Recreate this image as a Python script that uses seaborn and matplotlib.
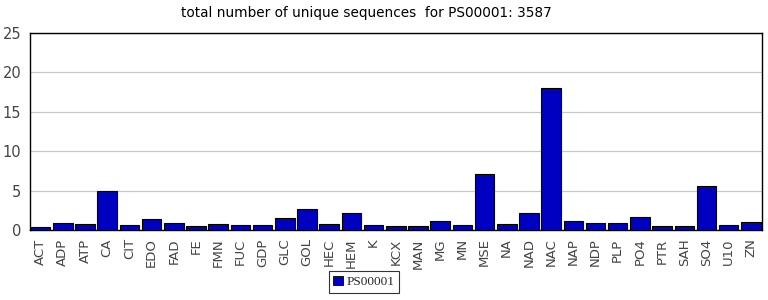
import matplotlib
matplotlib.use("Agg")
import matplotlib.pyplot as plt
import seaborn as sns
import pandas as pd
from matplotlib.patches import Patch

categories = ["ACT", "ADP", "ATP", "CA", "CIT", "EDO", "FAD", "FE", "FMN", "FUC", "GDP",
              "GLC", "GOL", "HEC", "HEM", "K", "KCX", "MAN", "MG", "MN", "MSE", "NA",
              "NAD", "NAC", "NAP", "NDP", "PLP", "PO4", "PTR", "SAH", "SO4", "U10", "ZN"]
values = [0.38, 0.93, 0.76, 5.0, 0.64, 1.4, 0.93, 0.5, 0.76, 0.64, 0.64,
          1.5, 2.67, 0.76, 2.16, 0.6, 0.5, 0.5, 1.14, 0.6, 7.1, 0.72,
          2.16, 18.0, 1.14, 0.89, 0.89, 1.65, 0.47, 0.47, 5.6, 0.6, 1.02]
series_name = "PS00001"
title = "total number of unique sequences  for PS00001: 3587"
yticks = [0, 5, 10, 15, 20, 25]

df = pd.DataFrame({"ligand": categories, "count": values, "series": series_name})

sns.set_style("white")
plt.rcParams["font.family"] = ["DejaVu Sans"]

fig = plt.figure(figsize=(7.68, 3.0), dpi=100)
ax = fig.add_axes([29.5 / 768, 1 - 230 / 300, (762 - 29.5) / 768, (230 - 33) / 300])

bar_color = "#0000C0"
sns.barplot(data=df, x="ligand", y="count", color=bar_color, saturation=1, width=0.88,
            edgecolor="black", linewidth=0.8, ax=ax, zorder=3)

ax.set_xlim(-0.5, len(categories) - 0.5)
ax.set_ylim(0, 25)
ax.set_yticks(yticks)
ax.yaxis.grid(True, color="#c8c8c8", linewidth=0.9, zorder=0)
ax.set_axisbelow(True)
for s in ax.spines.values():
    s.set_visible(True)
    s.set_color("black")
    s.set_linewidth(1.0)

ax.set_xlabel("")
ax.set_ylabel("")
ax.tick_params(axis="x", rotation=90, labelsize=9.5, colors="#444444", length=4,
               width=0.8, direction="out", pad=2)
ax.tick_params(axis="y", labelsize=10.5, colors="#444444", length=0, pad=6)

fig.text(366 / 768, 1 - 13 / 300, title, ha="center", va="center", fontsize=9.8,
         color="black")

handle = Patch(facecolor=bar_color, edgecolor="black", linewidth=0.6, label=series_name)
leg = fig.legend(handles=[handle], loc="center", bbox_to_anchor=(364 / 768, 1 - 282 / 300),
                 frameon=True, fancybox=False, handlelength=0.7, handleheight=0.7,
                 handletextpad=0.3, borderpad=0.35,
                 prop={"family": "Liberation Serif", "size": 9.5})
leg.get_frame().set_edgecolor("black")
leg.get_frame().set_linewidth(0.8)

fig.savefig("out.png", dpi=100)
